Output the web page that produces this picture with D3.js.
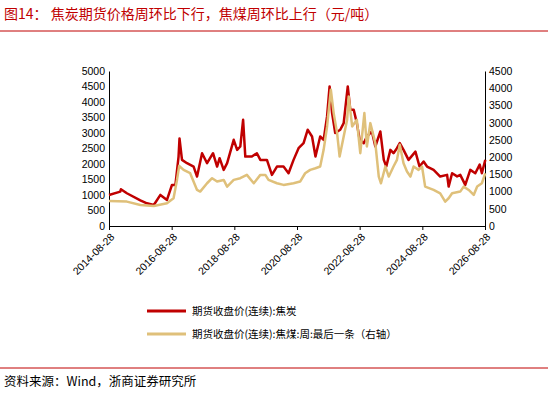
<!DOCTYPE html><html><head><meta charset="utf-8"><script src="https://cdn.jsdelivr.net/npm/d3@7"></script>
<style>body{margin:0;background:#fff}text{font-family:"Noto Sans CJK SC","Liberation Sans",sans-serif}</style></head><body><svg id="c" width="548" height="402"></svg><script>
const tickYears=[2014.66,2016.66,2018.66,2020.66,2022.66,2024.66,2026.66];
const tickLabels=["2014-08-28","2016-08-28","2018-08-28","2020-08-28","2022-08-28","2024-08-28","2026-08-28"];
const cokeYears=[14.66,15.02,15.04,15.23,15.66,15.87,16.09,16.30,16.51,16.67,16.78,16.88,16.91,16.99,17.15,17.36,17.47,17.63,17.79,17.98,18.11,18.19,18.32,18.43,18.64,18.75,18.85,18.94,19.01,19.22,19.38,19.49,19.70,19.86,20.02,20.23,20.39,20.55,20.71,20.87,21.00,21.14,21.25,21.40,21.51,21.62,21.70,21.78,21.88,22.04,22.15,22.28,22.36,22.47,22.57,22.66,22.79,22.89,23.05,23.16,23.32,23.43,23.51,23.64,23.74,23.85,23.94,24.06,24.22,24.44,24.57,24.70,24.81,25.02,25.23,25.45,25.50,25.61,25.77,25.87,26.03,26.19,26.35,26.49,26.56,26.67];
const cokeValues=[1002,1110,1185,1056,830,733,679,1002,840,1325,1325,2240,2823,2133,2026,1918,1595,2348,2026,2348,1918,2187,1810,2026,2780,2456,2564,3427,2240,2240,2348,2133,2133,1649,1918,1918,1703,2133,2510,2672,3104,2887,2240,2887,2780,3534,4503,3642,3000,3104,3319,4503,3750,3750,3319,2780,2672,2887,3050,2564,3050,2133,1918,2456,2348,2510,2672,2456,2133,2400,1918,2080,1918,1810,1595,1649,1272,1703,1600,1649,1325,1810,1703,1980,1703,2133];
const coalYears=[14.66,15.23,15.66,16.09,16.51,16.72,16.83,16.90,17.04,17.25,17.47,17.57,17.79,17.95,18.11,18.32,18.43,18.64,18.85,19.06,19.28,19.49,19.65,19.75,20.02,20.23,20.55,20.76,20.92,21.08,21.25,21.40,21.51,21.62,21.74,21.83,21.94,22.02,22.15,22.26,22.31,22.42,22.57,22.68,22.81,22.89,23.00,23.16,23.27,23.34,23.48,23.59,23.74,23.85,23.94,24.06,24.17,24.28,24.38,24.54,24.65,24.75,25.02,25.23,25.39,25.50,25.61,25.87,25.98,26.14,26.30,26.41,26.56,26.67];
const coalValues=[727,708,611,582,659,805,1338,1746,1629,1532,1047,999,1241,1387,1290,1338,1144,1338,1387,1484,1241,1484,1484,1338,1241,1193,1241,1290,1532,1629,1678,1726,2211,2890,3957,3278,2696,2017,2599,3084,3763,2890,3084,2114,3278,2308,2987,2405,1435,1241,1726,1435,1726,1920,2357,1823,1581,1435,1726,1629,1726,1144,1047,950,708,805,950,999,1144,1047,902,1144,1241,1532];
const leftTicks=[0,500,1000,1500,2000,2500,3000,3500,4000,4500,5000];
const rightTicks=[0,500,1000,1500,2000,2500,3000,3500,4000,4500];
const svg=d3.select("#c");
const red="#c00000",gold="#dfc07a";
svg.append("text").attr("x",4).attr("y",19).attr("fill",red).attr("font-size",14).text("图14：  焦炭期货价格周环比下行，焦煤周环比上行（元/吨）");
svg.append("line").attr("x1",0).attr("x2",548).attr("y1",31).attr("y2",31).attr("stroke",red).attr("stroke-width",1);
const x=d3.scaleLinear().domain([2014.66,2026.66]).range([109,485]);
const yl=d3.scaleLinear().domain([0,5000]).range([226,71]);
const yr=d3.scaleLinear().domain([0,4500]).range([226,71]);
const fmt=d3.format("d");
const la=svg.append("g").attr("transform","translate(109,0)").call(d3.axisLeft(yl).tickValues(leftTicks).tickFormat(fmt).tickSize(0).tickPadding(4));
const ra=svg.append("g").attr("transform","translate(485,0)").call(d3.axisRight(yr).tickValues(rightTicks).tickFormat(fmt).tickSize(0).tickPadding(4));
const xa=svg.append("g").attr("transform","translate(0,226)").call(d3.axisBottom(x).tickValues(tickYears).tickFormat((d,i)=>tickLabels[i]).tickSize(4));
[la,ra,xa].forEach(a=>{a.selectAll("path,line").attr("stroke","#000");a.selectAll("text").attr("font-size",10.5).attr("fill","#000").style("font-family","Liberation Sans, Arial, sans-serif");});
xa.selectAll("text").attr("text-anchor","end").attr("transform","rotate(-45)").attr("dx","-0.4em").attr("dy","0.5em");
const coal=coalYears.map((t,i)=>[2000+t,coalValues[i]]);
const coke=cokeYears.map((t,i)=>[2000+t,cokeValues[i]]);
svg.append("path").attr("d",d3.line().x(d=>x(d[0])).y(d=>yl(d[1]))(coke)).attr("fill","none").attr("stroke",red).attr("stroke-width",2.5).attr("stroke-linejoin","round");
svg.append("path").attr("d",d3.line().x(d=>x(d[0])).y(d=>yr(d[1]))(coal)).attr("fill","none").attr("stroke",gold).attr("stroke-width",2.5).attr("stroke-linejoin","round");
const leg=[["期货收盘价(连续):焦炭",red,311],["期货收盘价(连续):焦煤:周:最后一条（右轴）",gold,334]];
leg.forEach(l=>{svg.append("line").attr("x1",147).attr("x2",186).attr("y1",l[2]).attr("y2",l[2]).attr("stroke",l[1]).attr("stroke-width",3);
svg.append("text").attr("x",192).attr("y",l[2]+4).attr("font-size",10.5).attr("fill","#000").text(l[0]);});
svg.append("line").attr("x1",0).attr("x2",548).attr("y1",368).attr("y2",368).attr("stroke",red).attr("stroke-width",1);
svg.append("text").attr("x",4).attr("y",386).attr("font-size",12.5).attr("fill","#000").text("资料来源：Wind，浙商证券研究所");
</script></body></html>
